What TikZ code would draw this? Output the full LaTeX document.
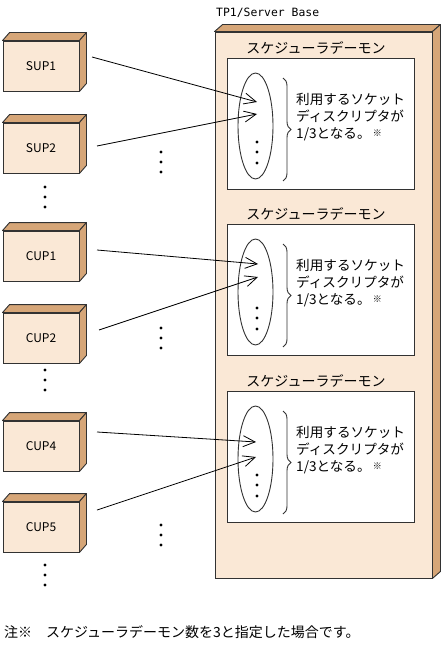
\documentclass[tikz,border=0pt]{standalone}
\usepackage{fontspec}
\newfontfamily\jpfont{Noto Sans CJK JP}
\newfontfamily\monofont{DejaVu Sans Mono}
\usepackage{tikz}
\usetikzlibrary{positioning}
\usetikzlibrary{calc}
\usetikzlibrary{arrows.meta}
\usetikzlibrary{shapes.geometric}
\usetikzlibrary{decorations.pathreplacing}
\definecolor{boxfront}{RGB}{250,232,214}
\definecolor{boxside}{RGB}{214,166,120}
\definecolor{edge}{RGB}{50,50,50}

\tikzset{
  cube/.style={draw=edge, fill=boxfront, line width=0.9pt, minimum width=76pt, minimum height=50pt, inner sep=0pt, font=\jpfont\fontsize{12}{14}\selectfont},
  bevel/.style={draw=edge, fill=boxside, line width=0.9pt, line join=round},
  daemon/.style={draw=edge, fill=white, line width=0.9pt, minimum width=187pt, minimum height=131pt, inner sep=0pt},
  jptext/.style={font=\jpfont\fontsize{13.6}{17}\selectfont, inner sep=0pt},
  conn/.style={line width=0.8pt, -{Straight Barb[length=12pt,width=11pt]}},
  dotmark/.style={circle, fill=black, inner sep=0pt, minimum size=3.2pt},
}

\begin{document}
\begin{tikzpicture}[x=1pt,y=-1pt]
\useasboundingbox (0,0) rectangle (443,647);
%%%%%%%%%%%%%%%%%%%%%%%%%%%%%%%%%%%%%
\node[cube, minimum width=217pt, minimum height=546pt] (tp1) at (323.5,305) {};
\draw[bevel] (tp1.north west) -- ++(8,-7) -- ($(tp1.north east)+(8,-7)$) -- (tp1.north east) -- cycle;
\draw[bevel] (tp1.north east) -- ++(8,-7) -- ($(tp1.south east)+(8,-7)$) -- (tp1.south east) -- cycle;
\node[font=\monofont\fontsize{11.4}{13}\selectfont, inner sep=0pt, anchor=west] (tp1lbl) at (216,13) {TP1/Server Base};
%%%%%%%%%%%%%%%%%%%%%%%%%%%%%%%%%%%%%
\foreach \i/\T in {1/58,2/224,3/391}{
  \node[daemon, anchor=north west] (d\i) at (227,\T) {};
  \node[jptext, font=\jpfont\fontsize{14}{17}\selectfont] (title\i) at (316,\T-10) {スケジューラデーモン};
  \node[draw=edge, line width=0.9pt, ellipse, minimum width=35pt, minimum height=106pt, inner sep=0pt] (e\i) at (255.5,\T+68) {};
  \draw[edge, line width=0.9pt, decorate, decoration={brace, amplitude=8pt}] (283,\T+20) -- (283,\T+123);
  \node[jptext, anchor=west, align=left] (txt\i) at (296,\T+59) {利用するソケット\\ディスクリプタが\\1/3となる。\,\raisebox{2pt}{\fontsize{9}{9}\selectfont ※}};
  \foreach \dy in {84,94,105}
    \node[dotmark] at (257,\T+\dy) {};
}
%%%%%%%%%%%%%%%%%%%%%%%%%%%%%%%%%%%%%
\foreach \nm/\lab/\y in {sup1/SUP1/66,sup2/SUP2/148,cup1/CUP1/256,cup2/CUP2/338,cup4/CUP4/446,cup5/CUP5/527}{
  \node[cube] (\nm) at (41,\y) {\lab};
  \draw[bevel] (\nm.north west) -- ++(7,-8) -- ($(\nm.north east)+(7,-8)$) -- (\nm.north east) -- cycle;
  \draw[bevel] (\nm.north east) -- ++(7,-8) -- ($(\nm.south east)+(7,-8)$) -- (\nm.south east) -- cycle;
}
%%%%%%%%%%%%%%%%%%%%%%%%%%%%%%%%%%%%%
\foreach \y in {187,197,207,370,380,390,565,575,585}
  \node[dotmark] at (45,\y) {};
\foreach \y in {152,162,172,328,338,348,525,535,545}
  \node[dotmark] at (161,\y) {};
%%%%%%%%%%%%%%%%%%%%%%%%%%%%%%%%%%%%%
\coordinate (sup1out) at (92,57);
\coordinate (sup2out) at (97,146);
\coordinate (cup1out) at (97,250);
\coordinate (cup2out) at (99,330);
\coordinate (cup4out) at (97,432);
\coordinate (cup5out) at (97,510);
\coordinate (e1a) at (257,102);
\coordinate (e1b) at (257,114);
\coordinate (e2a) at (258,264);
\coordinate (e2b) at (258,277);
\coordinate (e3a) at (256,442);
\coordinate (e3b) at (256,457);
\draw[conn] (sup1out) -- (e1a);
\draw[conn] (sup2out) -- (e1b);
\draw[conn] (cup1out) -- (e2a);
\draw[conn] (cup2out) -- (e2b);
\draw[conn] (cup4out) -- (e3a);
\draw[conn] (cup5out) -- (e3b);
%%%%%%%%%%%%%%%%%%%%%%%%%%%%%%%%%%%%%
\node[jptext, font=\jpfont\fontsize{14}{17}\selectfont, anchor=west] (note) at (4,632) {注※　スケジューラデーモン数を3と指定した場合です。};
\end{tikzpicture}
\end{document}
